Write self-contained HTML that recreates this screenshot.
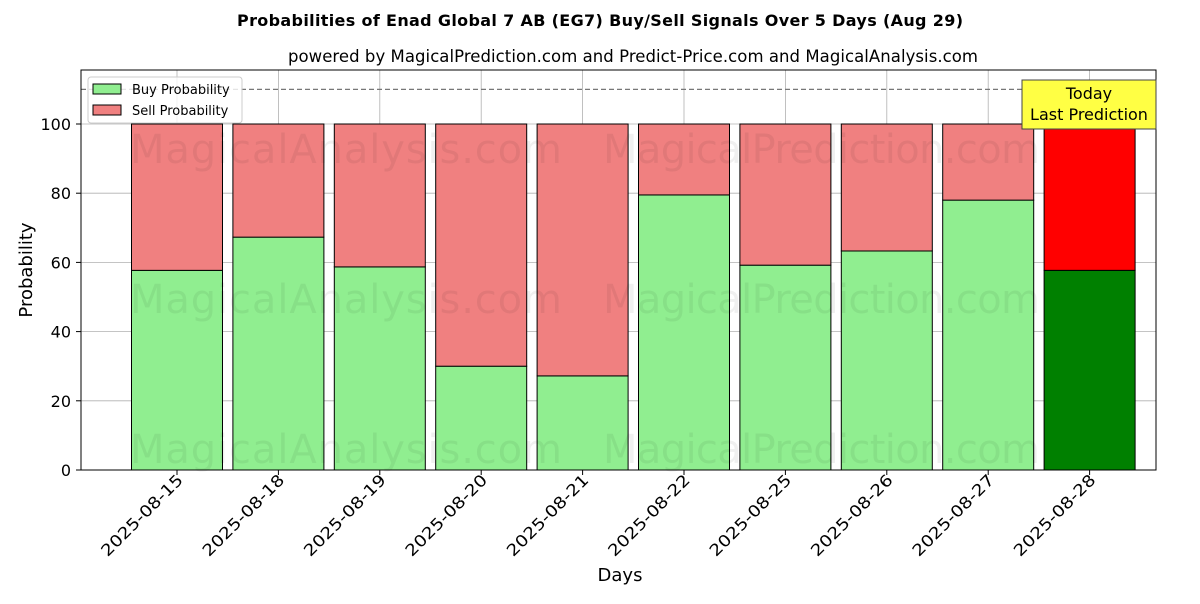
<!DOCTYPE html>
<html><head><meta charset="utf-8"><style>
body{margin:0;background:#fff;font-family:"DejaVu Sans","Liberation Sans",sans-serif}
</style></head><body>
<svg id="c" width="1200" height="600" xmlns="http://www.w3.org/2000/svg" font-family="DejaVu Sans, Liberation Sans, sans-serif">
<text x="600" y="26" text-anchor="middle" font-size="16" font-weight="bold" textLength="726">Probabilities of Enad Global 7 AB (EG7) Buy/Sell Signals Over 5 Days (Aug 29)</text>
<text x="633" y="62" text-anchor="middle" font-size="16.5" textLength="690">powered by MagicalPrediction.com and Predict-Price.com and MagicalAnalysis.com</text>
<g id="grid"></g>
<g id="bars"></g>
<g id="wm" fill="#000" fill-opacity="0.06" font-size="40">
<text x="130" y="163" textLength="432">MagicalAnalysis.com</text>
<text x="603" y="163" textLength="437">MagicalPrediction.com</text>
<text x="130" y="313" textLength="432">MagicalAnalysis.com</text>
<text x="603" y="313" textLength="437">MagicalPrediction.com</text>
<text x="130" y="463" textLength="432">MagicalAnalysis.com</text>
<text x="603" y="463" textLength="437">MagicalPrediction.com</text>
</g>
<line x1="81" x2="1156" y1="89.4" y2="89.4" stroke="#777" stroke-dasharray="5,3" stroke-width="1.2"/>
<rect x="81" y="70" width="1075" height="400" fill="none" stroke="#000" stroke-width="1"/>
<g id="axes"></g>
<g>
<rect x="1022" y="80" width="134" height="49" fill="#ffff44" stroke="#444" stroke-width="1"/>
<text x="1089" y="99" text-anchor="middle" font-size="16">Today</text>
<text x="1089" y="120" text-anchor="middle" font-size="16">Last Prediction</text>
</g>
<g>
<rect x="88" y="77" width="154" height="46" fill="#fff" fill-opacity="0.8" stroke="#ccc" rx="3"/>
<rect x="93" y="84" width="28" height="10" fill="#90ee90" stroke="#000"/>
<text x="132" y="94" font-size="13">Buy Probability</text>
<rect x="93" y="105" width="28" height="10" fill="#f08080" stroke="#000"/>
<text x="132" y="115" font-size="13">Sell Probability</text>
</g>
<text x="620" y="581" text-anchor="middle" font-size="18">Days</text>
<text transform="translate(32,270) rotate(-90)" text-anchor="middle" font-size="18">Probability</text>
</svg>
<script>
const categories=["2025-08-15","2025-08-18","2025-08-19","2025-08-20","2025-08-21","2025-08-22","2025-08-25","2025-08-26","2025-08-27","2025-08-28"];
const buyValues=[57.7,67.3,58.7,30.0,27.2,79.5,59.2,63.3,78.0,57.7];
const sellValues=buyValues.map(v=>100-v);
const yTicks=[0,20,40,60,80,100];
const NS="http://www.w3.org/2000/svg";
const y=v=>470-v*3.46;
const x=i=>177+i*101.4;
const bw=91;
function mk(tag,attrs,parent){const e=document.createElementNS(NS,tag);for(const k in attrs)e.setAttribute(k,attrs[k]);document.getElementById(parent).appendChild(e);return e;}
yTicks.forEach(t=>{
 const g=mk('line',{x1:81,x2:1156,y1:y(t),y2:y(t),stroke:'#b0b0b0','stroke-width':0.8},'grid');
 
 
 mk('line',{x1:76,x2:81,y1:y(t),y2:y(t),stroke:'#000'},'axes');
 const l=mk('text',{x:71,y:y(t)+6,'text-anchor':'end','font-size':16},'axes');
 l.textContent=t;
 
 
});
categories.forEach((c,i)=>{
 const g=mk('line',{x1:x(i),x2:x(i),y1:70,y2:470,stroke:'#b0b0b0','stroke-width':0.8},'grid');
 
 
 const last=i===categories.length-1;
 const b=mk('rect',{x:x(i)-bw/2,y:y(buyValues[i]),width:bw,height:buyValues[i]*3.46,fill:last?'#008000':'#90ee90',stroke:'#000','stroke-width':1},'bars');
 
 
 const s=mk('rect',{x:x(i)-bw/2,y:y(100),width:bw,height:sellValues[i]*3.46,fill:last?'#ff0000':'#f08080',stroke:'#000','stroke-width':1},'bars');
 
 
 mk('line',{x1:x(i),x2:x(i),y1:470,y2:475,stroke:'#000'},'axes');
 const l=mk('text',{transform:`translate(${x(i)+7},${481}) rotate(-45)`,'text-anchor':'end','font-size':16,textLength:108,lengthAdjust:'spacingAndGlyphs'},'axes');
 l.textContent=c;
 
 
});
</script>
</body></html>
